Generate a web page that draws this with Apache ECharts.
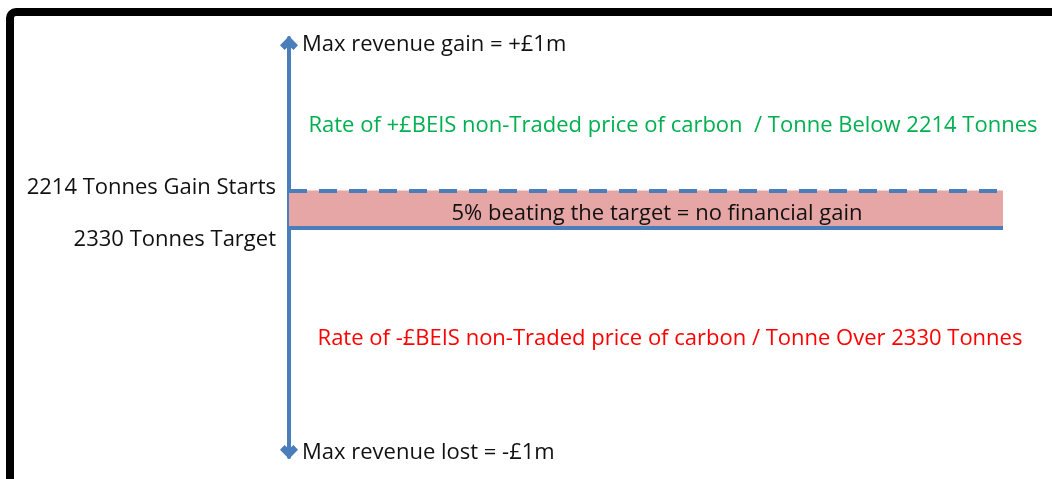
<!DOCTYPE html>
<html>
<head>
<meta charset="utf-8">
<script src="https://cdn.jsdelivr.net/npm/echarts@6/dist/echarts.min.js"></script>
<style>
  html, body { margin: 0; padding: 0; background: #fff; }
  #chart { width: 1052px; height: 479px; }
</style>
</head>
<body>
<div id="chart"></div>
<script>
// tonnes scale (top = low emissions / gain, bottom = high emissions / loss)
const axisRange = [1742, 3038]
const thresholdTonnes = [2214, 2330]
const thresholdLabels = ['2214 Tonnes Gain Starts', '2330 Tonnes Target']
const bandLabel = '5% beating the target = no financial gain'
const zoneLabels = [
  'Rate of +£BEIS non-Traded price of carbon  / Tonne Below 2214 Tonnes',
  'Rate of -£BEIS non-Traded price of carbon / Tonne Over 2330 Tonnes'
]
const axisEndLabels = ['Max revenue gain = +£1m', 'Max revenue lost = -£1m']

const blue = '#4a7ebb'
const font = 'Open Sans'
const fsize = 22

// open arrow head, drawn pointing up
const chevron = 'path://M7,0 L14,7 L10.5,10.5 L7,7.5 L3.5,10.5 L0,7 Z'

const chart = echarts.init(document.getElementById('chart'))

const option = {
  backgroundColor: '#fff',
  animation: false,
  textStyle: { fontFamily: font },
  grid: { left: 289, right: 49, top: 38, bottom: 22 },
  xAxis: {
    type: 'value', min: 0, max: 100, show: false
  },
  yAxis: {
    type: 'value',
    inverse: true,
    min: axisRange[0],
    max: axisRange[1],
    axisLine: {
      show: true,
      lineStyle: { color: blue, width: 4 }
    },
    axisTick: { show: false },
    axisLabel: { show: false },
    splitLine: { show: false }
  },
  graphic: [
    {
      // frame round the slide
      type: 'rect',
      shape: { x: 10, y: 12, width: 1200, height: 700, r: 6 },
      style: { fill: 'none', stroke: '#000', lineWidth: 8 },
      silent: true
    }
  ],
  series: [
    {
      type: 'line',
      data: [],
      silent: true,
      markArea: {
        silent: true,
        data: [
          [
            { yAxis: axisRange[0], itemStyle: { color: 'rgba(0,0,0,0)' },
              label: { show: true, position: 'inside', offset: [27, 11], formatter: zoneLabels[0], color: '#00b050', fontSize: fsize, fontFamily: font } },
            { yAxis: thresholdTonnes[0] }
          ],
          [
            { yAxis: thresholdTonnes[0], itemStyle: { color: '#e6a6a6' },
              label: { show: true, position: 'inside', offset: [11, 4], formatter: bandLabel, color: '#111', fontSize: fsize, fontFamily: font } },
            { yAxis: thresholdTonnes[1] }
          ],
          [
            { yAxis: thresholdTonnes[1], itemStyle: { color: 'rgba(0,0,0,0)' },
              label: { show: true, position: 'inside', offset: [24, -4], formatter: zoneLabels[1], color: '#ff0000', fontSize: fsize, fontFamily: font } },
            { yAxis: axisRange[1] }
          ]
        ]
      },
      markLine: {
        silent: true,
        symbol: 'none',
        data: [
          {
            yAxis: thresholdTonnes[0],
            lineStyle: { color: blue, width: 4, type: [18, 12] },
            label: { show: true, position: 'start', distance: 13, offset: [0, -3], formatter: thresholdLabels[0], color: '#111', fontSize: fsize, fontFamily: font }
          },
          {
            yAxis: thresholdTonnes[1],
            lineStyle: { color: blue, width: 4, type: 'solid' },
            label: { show: true, position: 'start', distance: 13, offset: [0, 12], formatter: thresholdLabels[1], color: '#111', fontSize: fsize, fontFamily: font }
          }
        ]
      },
      markPoint: {
        silent: true,
        symbol: 'circle',
        symbolSize: 0,
        itemStyle: { color: blue },
        label: { show: true, position: 'right', distance: 13, color: '#111', fontSize: fsize, fontFamily: font },
        data: [
          { coord: [0, axisRange[0]], label: { formatter: axisEndLabels[0], offset: [0, 7] } },
          { coord: [0, axisRange[1]], label: { formatter: axisEndLabels[1], offset: [0, -4] } },
          // arrow heads at both ends of the axis
          { coord: [0, axisRange[0]], symbol: chevron, symbolSize: [18, 14], symbolOffset: [0, 5], label: { show: false } },
          { coord: [0, axisRange[1]], symbol: chevron, symbolSize: [18, 14], symbolOffset: [0, -5], symbolRotate: 180, label: { show: false } }
        ]
      }
    }
  ]
}

chart.setOption(option)
</script>
</body>
</html>
